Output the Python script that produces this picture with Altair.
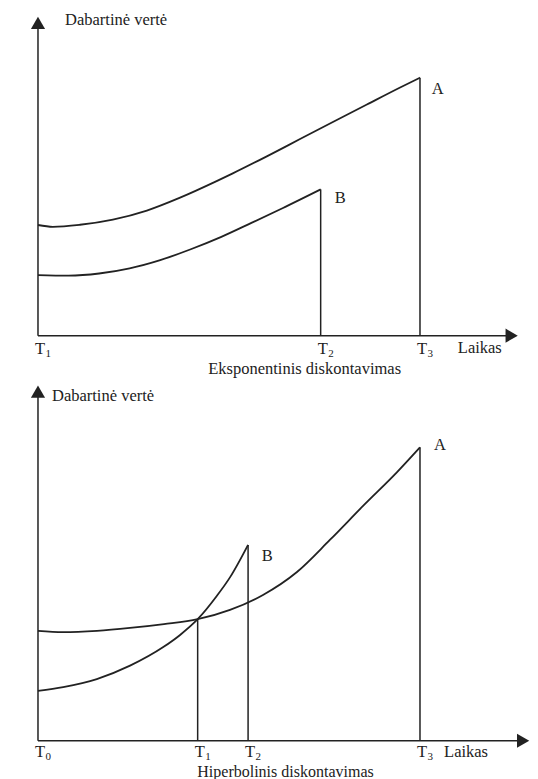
import altair as alt
import pandas as pd

# ---------------- data (time units: T3 = 10, value units arbitrary) ----------------
# Top panel: exponential discounting
exp_a_t = [0.0, 0.39, 1.10, 1.96, 2.85, 3.72, 4.69, 5.10, 5.99, 6.86, 7.72, 8.61, 9.48, 10.0]
exp_a_v = [4.29, 4.22, 4.30, 4.50, 4.85, 5.35, 6.00, 6.29, 6.95, 7.62, 8.28, 8.96, 9.62, 10.0]
exp_b_t = [0.0, 0.8, 1.6, 2.4, 3.2, 4.0, 4.8, 5.6, 6.4, 7.40]
exp_b_v = [2.35, 2.33, 2.41, 2.61, 2.93, 3.35, 3.83, 4.38, 4.94, 5.67]
exp_tick_t = [0.0, 7.40, 10.0]
exp_tick_sub = ["1", "2", "3"]

# Bottom panel: hyperbolic discounting
hyp_a_t = [0.0, 0.654, 1.545, 2.408, 3.298, 4.18, 5.026, 5.89, 6.78, 7.64, 8.51, 9.40, 10.0]
hyp_a_v = [4.26, 4.21, 4.26, 4.37, 4.52, 4.71, 5.07, 5.65, 6.54, 7.78, 9.10, 10.41, 11.37]
hyp_b_t = [0.0, 0.66, 1.54, 2.41, 3.28, 3.72, 4.18, 4.68, 5.03, 5.50]
hyp_b_v = [1.93, 2.08, 2.39, 2.91, 3.63, 4.10, 4.71, 5.61, 6.34, 7.59]
hyp_tick_t = [0.0, 4.18, 5.50, 10.0]
hyp_tick_sub = ["0", "1", "2", "3"]

# annotation texts
exp_text = ["Dabartinė vertė", "A", "B", "Laikas"]
exp_text_t = [0.707, 10.31, 7.77, 10.99]
exp_text_v = [12.24, 9.56, 5.33, -0.48]
exp_title = "Eksponentinis diskontavimas"
exp_title_pos = [6.98, -1.31]

hyp_text = ["Dabartinė vertė", "A", "B", "Laikas"]
hyp_text_t = [0.366, 10.37, 5.86, 10.63]
hyp_text_v = [13.36, 11.46, 7.16, -0.45]
hyp_title = "Hiperbolinis diskontavimas"
hyp_title_pos = [6.48, -1.21]

# tick-label vertical anchors (T letter, subscript digit)
exp_tick_v = [-0.52, -0.72]
hyp_tick_v = [-0.45, -0.65]

# axis extents (arrow centres)
exp_axis = {"x_end": 12.40, "y_end": 12.12}
hyp_axis = {"x_end": 12.70, "y_end": 13.53}

X_DOMAIN = [-0.785, 12.88]
INK = "#222222"
FONT = "Liberation Serif, Times New Roman, DejaVu Serif, serif"
W = 522


def build(a_t, a_v, b_t, b_v, tick_t, tick_sub, tick_v, texts, text_t, text_v,
          title, title_pos, title_size, axis, y_domain, height):
    xs = alt.Scale(domain=X_DOMAIN, nice=False, zero=False)
    ys = alt.Scale(domain=y_domain, nice=False, zero=False)

    curves = pd.DataFrame(
        {"t": a_t + b_t, "v": a_v + b_v,
         "s": ["A"] * len(a_t) + ["B"] * len(b_t)}
    )
    drops = [{"t": a_t[-1], "v0": 0, "v1": a_v[-1]},
             {"t": b_t[-1], "v0": 0, "v1": b_v[-1]}]
    # drop line at a tick where the curves cross
    for t in tick_t[1:]:
        if t not in (a_t[-1], b_t[-1]) and t in b_t:
            drops.append({"t": t, "v0": 0, "v1": b_v[b_t.index(t)]})
    drops = pd.DataFrame(drops)

    axes = pd.DataFrame({
        "t": [0, 0], "t2": [axis["x_end"], 0],
        "v": [0, 0], "v2": [0, axis["y_end"]],
    })
    arrows = pd.DataFrame({
        "t": [axis["x_end"], 0], "v": [0, axis["y_end"]],
        "shape": ["triangle-right", "triangle-up"],
    })
    ticks = pd.DataFrame({"t": tick_t, "sub": tick_sub, "T": ["T"] * len(tick_t),
                          "vt": [tick_v[0]] * len(tick_t),
                          "vs": [tick_v[1]] * len(tick_t)})
    labels = pd.DataFrame({"t": text_t, "v": text_v, "txt": texts})
    ttl = pd.DataFrame({"t": [title_pos[0]], "v": [title_pos[1]], "txt": [title]})

    def X(f="t"):
        return alt.X(f"{f}:Q", scale=xs, axis=None)

    def Y(f="v"):
        return alt.Y(f"{f}:Q", scale=ys, axis=None)

    lines = alt.Chart(curves).mark_line(
        interpolate="monotone", color=INK, strokeWidth=1.8
    ).encode(x=X(), y=Y(), detail="s:N", order="t:Q")

    drop_rules = alt.Chart(drops).mark_rule(color=INK, strokeWidth=1.5).encode(
        x=X(), y=Y("v0"), y2="v1:Q"
    )
    ax = alt.Chart(axes).mark_rule(color=INK, strokeWidth=1.5).encode(
        x=X(), x2="t2:Q", y=Y(), y2="v2:Q"
    )
    arr = alt.Chart(arrows).mark_point(
        filled=True, size=200, color=INK, opacity=1, strokeWidth=0
    ).encode(x=X(), y=Y(), shape=alt.Shape("shape:N", scale=None))

    tT = alt.Chart(ticks).mark_text(
        align="left", baseline="middle", font=FONT, fontSize=16.5, color=INK, dx=-3
    ).encode(x=X(), y=Y("vt"), text="T:N")
    tS = alt.Chart(ticks).mark_text(
        align="left", baseline="middle", font=FONT, fontSize=11, color=INK, dx=7.5
    ).encode(x=X(), y=Y("vs"), text="sub:N")

    lab = alt.Chart(labels).mark_text(
        align="left", baseline="middle", font=FONT, fontSize=16.5, color=INK
    ).encode(x=X(), y=Y(), text="txt:N")
    tl = alt.Chart(ttl).mark_text(
        align="center", baseline="middle", font=FONT, fontSize=title_size, color=INK
    ).encode(x=X(), y=Y(), text="txt:N")

    return alt.layer(drop_rules, ax, lines, arr, tT, tS, lab, tl).properties(
        width=W, height=height
    )


top = build(exp_a_t, exp_a_v, exp_b_t, exp_b_v, exp_tick_t, exp_tick_sub, exp_tick_v,
            exp_text, exp_text_t, exp_text_v, exp_title, exp_title_pos, 16.5,
            exp_axis, [-2.105, 12.70], 382)
bottom = build(hyp_a_t, hyp_a_v, hyp_b_t, hyp_b_v, hyp_tick_t, hyp_tick_sub, hyp_tick_v,
               hyp_text, hyp_text_t, hyp_text_v, hyp_title, hyp_title_pos, 16,
               hyp_axis, [-1.174, 13.593], 381)

chart = alt.vconcat(top, bottom, spacing=0, bounds="flush").properties(
    padding=0
).configure_view(stroke=None)

chart.save("out.html", embed_options={"renderer": "svg", "actions": False})
